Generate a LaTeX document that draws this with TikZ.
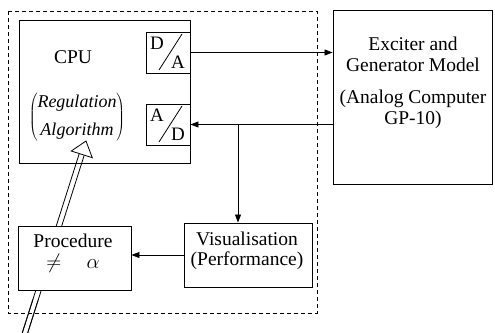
\documentclass[tikz,border=0pt]{standalone}
\usepackage{fontspec}
\setmainfont{Liberation Serif}
\usetikzlibrary{arrows.meta,calc}
\begin{document}
\begin{tikzpicture}[x=1pt,y=-1pt,
  box/.style={draw,line width=0.9pt,fill=white,inner sep=0pt},
  lbl/.style={font=\fontsize{19.5}{20.5}\selectfont,align=center,inner sep=0pt},
  conv/.style={font=\fontsize{19}{20}\selectfont,inner sep=0pt},
  arr/.style={line width=0.8pt,-{Triangle[length=8pt,width=6pt]}}]
\useasboundingbox (0,0) rectangle (495,332);
% outer dashed frame
\draw[line width=0.7pt,dash pattern=on 4pt off 3pt] (8,11) rectangle (317,313);
% double line with hollow arrowhead
\coordinate (ds) at (24,336);
\coordinate (dt) at (86,141);
\coordinate (db) at ($(dt)!14pt!(ds)$);
\coordinate (c1) at ($(db)!11pt!90:(dt)$);
\coordinate (c2) at ($(db)!11pt!-90:(dt)$);
\coordinate (s1) at ($(ds)!2.6pt!90:(dt)$);
\coordinate (s2) at ($(ds)!2.6pt!-90:(dt)$);
\coordinate (e1) at ($(db)!2.6pt!90:(dt)$);
\coordinate (e2) at ($(db)!2.6pt!-90:(dt)$);
% CPU box
\node[box,minimum width=171pt,minimum height=143pt,fill=none] (cpu) at (104.5,91.5) {};
\draw[line width=0.8pt] (s1) -- (e1) (s2) -- (e2);
\draw[line width=0.8pt,fill=white,line join=miter] (dt) -- (c1) -- (c2) -- cycle;
\node[lbl] (cputext) at (73,57) {CPU};
\node[lbl,font=\fontsize{18}{20}\selectfont] (reg) at (77,117) {$\left(\begin{array}{@{}c@{}}\textit{Regulation}\\[8pt]\textit{Algorithm}\end{array}\right)$};
% converters
\node[box,minimum width=44pt,minimum height=41pt] (da) at (168,52.5) {};
\node[conv] (daD) at (157,43) {D};
\node[conv] (daA) at (178,62) {A};
\draw[line width=0.8pt] (159,70) -- (182,34);
\node[box,minimum width=44pt,minimum height=41pt] (ad) at (168,124.5) {};
\node[conv] (adA) at (157,115) {A};
\node[conv] (adD) at (178,134) {D};
\draw[line width=0.8pt] (159,142) -- (182,106);
% exciter box
\node[box,minimum width=159pt,minimum height=174pt] (exc) at (412.5,97) {};
\node[lbl] (exctext) at (413,83) {Exciter and\\Generator Model\\[12pt](Analog Computer\\GP-10)};
% lower boxes
\node[box,minimum width=128pt,minimum height=64pt] (vis) at (248,255) {};
\node[lbl] (vistext) at (247,251) {Visualisation\\(Performance)};
\node[box,minimum width=113pt,minimum height=64pt] (proc) at (74.5,258) {};
\node[lbl] (proctext) at (73,253) {Procedure\\$\neq\quad\alpha$};
% double line continues below procedure box
\draw[line width=0.8pt] (s1) -- ($(s1)!0.2!(e1)$) (s2) -- ($(s2)!0.2!(e2)$);
% connectors
\draw[arr] (da.east) -- (da.east -| exc.west);
\draw[arr] (exc.west |- ad.east) -- (ad.east);
\coordinate (j) at (238,124.5);
\draw[arr] (j) -- (j |- vis.north);
\draw[arr] (vis.west) -- (vis.west -| proc.east);
\end{tikzpicture}
\end{document}
